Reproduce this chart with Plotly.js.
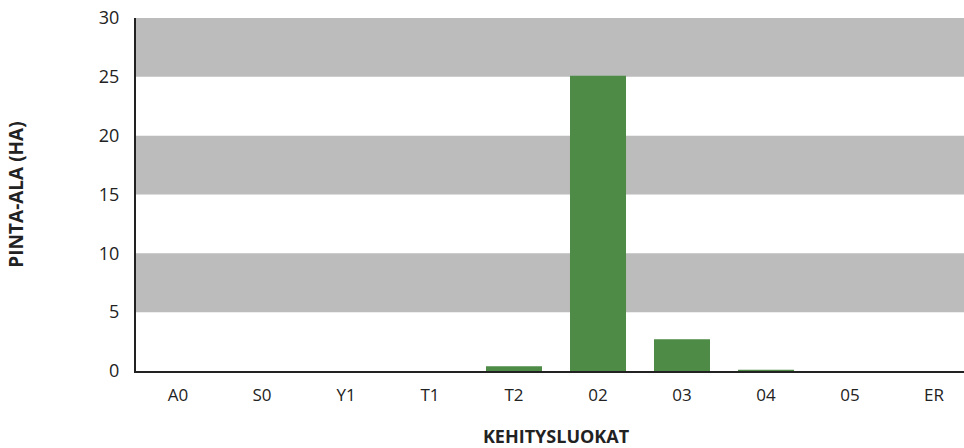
<!DOCTYPE html>
<html><head><meta charset="utf-8">
<script src="https://cdn.plot.ly/plotly-3.0.1.min.js"></script>
<style>html,body{margin:0;padding:0;background:#fff;overflow:hidden;width:964px;height:448px}#c{width:976px;height:448px}</style>
</head><body><div id="c"></div>
<script>
const categories = ['A0','S0','Y1','T1','T2','02','03','04','05','ER'];
const areaHa = [0, 0, 0, 0, 0.4, 25.1, 2.7, 0.1, 0, 0];
const yTicks = [0,5,10,15,20,25,30];
const grayBands = [[5,10],[15,20],[25,30]];

const shapes = grayBands.map(b => ({
  type:'rect', xref:'paper', yref:'y', x0:0, x1:1, y0:b[0], y1:b[1],
  fillcolor:'#bbbcbb', line:{width:0}, layer:'below'
}));

const font = 'Open Sans, Noto Sans, sans-serif';
Plotly.newPlot('c', [{
  type:'bar', x:categories, y:areaHa, marker:{color:'#4d8b47'}, hoverinfo:'skip'
}], {
  width:976, height:448,
  margin:{l:136, r:0, t:18, b:77},
  paper_bgcolor:'#fff', plot_bgcolor:'#fff',
  bargap:0.333,
  shapes:shapes,
  showlegend:false,
  xaxis:{type:'category', showline:true, linecolor:'#222', linewidth:2,
    ticks:'', showgrid:false, zeroline:false,
    tickfont:{family:font, size:17, color:'#222'}, ticklabelstandoff:8,
    title:{text:'<b>KEHITYSLUOKAT</b>', font:{family:font, size:18, color:'#222'}, standoff:26}},
  yaxis:{range:[0,30], tickvals:yTicks, showline:true, linecolor:'#222', linewidth:2,
    ticks:'', showgrid:false, zeroline:false,
    tickfont:{family:font, size:18, color:'#222'}, ticklabelstandoff:11,
    title:{text:'<b>PINTA-ALA (HA)</b>', font:{family:font, size:19, color:'#222'}, standoff:70}}
}, {staticPlot:true});
</script></body></html>
